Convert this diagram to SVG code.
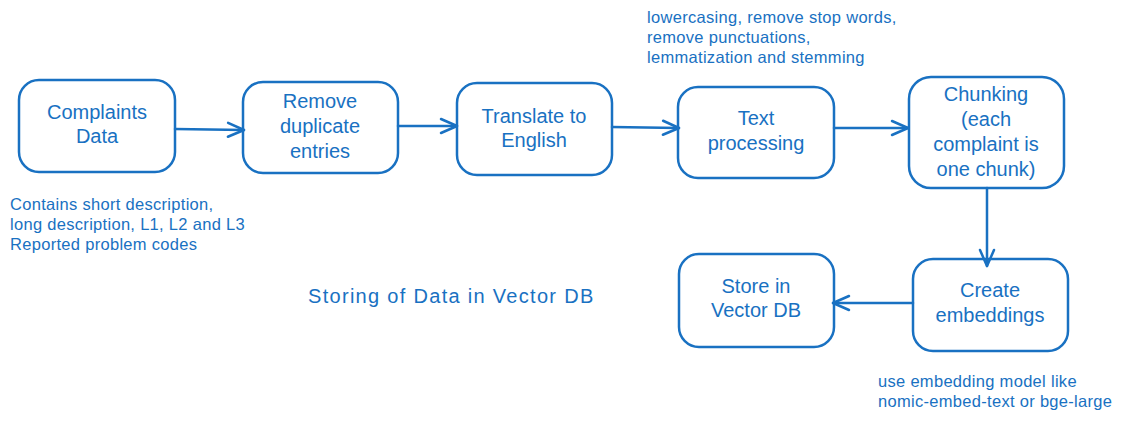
<svg xmlns="http://www.w3.org/2000/svg" width="1121" height="422" viewBox="0 0 1121 422">
<defs>
<style>
.box{fill:none;stroke:#1971c2;stroke-width:2.5;}
.t{font-family:"Liberation Sans",Arial,sans-serif;font-size:20px;fill:#1971c2;text-anchor:middle;}
.n{font-family:"Liberation Sans",Arial,sans-serif;font-size:16.5px;letter-spacing:0.3px;fill:#1971c2;}
.title{font-family:"Liberation Sans",Arial,sans-serif;font-size:20px;letter-spacing:1.3px;fill:#1971c2;}
.c{fill:none;stroke:#1971c2;stroke-width:2.5;stroke-linecap:round;}
</style>
<marker id="ah" viewBox="0 0 20 20" refX="18" refY="10" markerWidth="20" markerHeight="20" markerUnits="userSpaceOnUse" orient="auto">
<path d="M2,3 L18,10 L2,17" fill="none" stroke="#1971c2" stroke-width="2.5" stroke-linecap="round" stroke-linejoin="round"/>
</marker>
</defs>
<rect width="1121" height="422" fill="#ffffff"/>
<g id="connectors">
<path class="c" d="M175,129 L244,130" marker-end="url(#ah)"/>
<path class="c" d="M398,126 L457,126" marker-end="url(#ah)"/>
<path class="c" d="M612,127 L679,128" marker-end="url(#ah)"/>
<path class="c" d="M834,128 L908,128" marker-end="url(#ah)"/>
<path class="c" d="M987,188 L987,266" marker-end="url(#ah)"/>
<path class="c" d="M913,303 L833,303" marker-end="url(#ah)"/>
</g>
<g id="complaints">
<rect class="box" x="19" y="80" width="156" height="92" rx="20"/>
<text class="t" x="97" y="119">Complaints</text>
<text class="t" x="97" y="143">Data</text>
</g>
<g id="dedup">
<rect class="box" x="243" y="82" width="155" height="91" rx="20"/>
<text class="t" x="320" y="108">Remove</text>
<text class="t" x="320" y="133">duplicate</text>
<text class="t" x="320" y="158">entries</text>
</g>
<g id="translate">
<rect class="box" x="457" y="83" width="155" height="92" rx="20"/>
<text class="t" x="534" y="123">Translate to</text>
<text class="t" x="534" y="147">English</text>
</g>
<g id="textproc">
<rect class="box" x="678" y="87" width="156" height="91" rx="20"/>
<text class="t" x="756" y="125">Text</text>
<text class="t" x="756" y="150">processing</text>
</g>
<g id="chunking">
<rect class="box" x="909" y="77" width="155" height="111" rx="22"/>
<text class="t" x="986" y="101">Chunking</text>
<text class="t" x="986" y="126">(each</text>
<text class="t" x="986" y="151">complaint is</text>
<text class="t" x="986" y="176">one chunk)</text>
</g>
<g id="embeddings">
<rect class="box" x="913" y="259" width="155" height="92" rx="20"/>
<text class="t" x="990" y="297">Create</text>
<text class="t" x="990" y="322">embeddings</text>
</g>
<g id="store">
<rect class="box" x="679" y="254" width="155" height="93" rx="20"/>
<text class="t" x="756" y="293">Store in</text>
<text class="t" x="756" y="317">Vector DB</text>
</g>
<g id="notes">
<text class="n" x="10" y="210">Contains short description,</text>
<text class="n" x="10" y="230">long description, L1, L2 and L3</text>
<text class="n" x="10" y="250">Reported problem codes</text>
<text class="n" x="647" y="23">lowercasing, remove stop words,</text>
<text class="n" x="647" y="43">remove punctuations,</text>
<text class="n" x="647" y="63">lemmatization and stemming</text>
<text class="n" x="878" y="387">use embedding model like</text>
<text class="n" x="878" y="407">nomic-embed-text or bge-large</text>
<text class="title" x="308" y="303">Storing of Data in Vector DB</text>
</g>
</svg>
